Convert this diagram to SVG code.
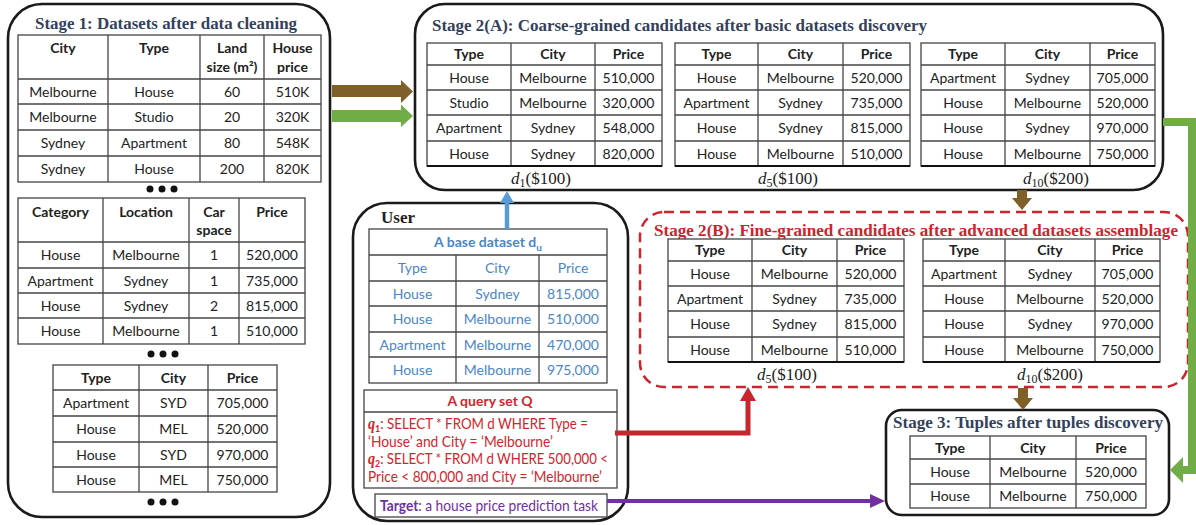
<svg xmlns="http://www.w3.org/2000/svg" width="1196" height="525" viewBox="0 0 1196 525">
<style>
.box{fill:#fff;stroke:#1a1a1a;stroke-width:2.6}
.tb{fill:#fff;stroke:#444;stroke-width:1.3}
.gl{stroke:#444;stroke-width:1.3}
.bot{stroke:#111;stroke-width:2.2}
.t{font-family:Lato,"Open Sans","Liberation Sans",sans-serif;font-size:14px;fill:#222;text-anchor:middle}
.b{font-weight:bold}
.blue{fill:#4a86c8}
.red{fill:#d0262d}
.pur{fill:#7030a0}
.ttl{font-family:"Liberation Serif",serif;font-weight:bold;font-size:17px;fill:#33415c}
.cap{font-family:"Liberation Serif",serif;font-size:17px;fill:#222;text-anchor:middle}
.dot{fill:#111}
.q{font-family:Lato,"Open Sans","Liberation Sans",sans-serif;font-size:15px}
</style>
<rect width="1196" height="525" fill="#fff"/>

<g id="stage1">
<rect class="box" x="8" y="4" width="322" height="513" rx="34"/>
<text class="ttl" x="35" y="29" textLength="262" lengthAdjust="spacingAndGlyphs">Stage 1: Datasets after data cleaning</text>
<rect class="tb" x="18" y="35" width="303" height="147"/>
<g class="gl"><line x1="108" y1="35" x2="108" y2="182"/><line x1="200" y1="35" x2="200" y2="182"/><line x1="264" y1="35" x2="264" y2="182"/>
<line x1="18" y1="79" x2="321" y2="79"/><line x1="18" y1="104" x2="321" y2="104"/><line x1="18" y1="130" x2="321" y2="130"/><line x1="18" y1="156" x2="321" y2="156"/></g>
<g class="t"><text class="t b" x="63" y="53">City</text><text class="t b" x="154" y="53">Type</text><text class="t b" x="232" y="53">Land</text><text class="t b" x="232" y="72">size (m²)</text><text class="t b" x="292.5" y="53">House</text><text class="t b" x="292.5" y="72">price</text>
<text class="t" x="63" y="96.5">Melbourne</text><text class="t" x="154" y="96.5">House</text><text class="t" x="232" y="96.5">60</text><text class="t" x="292.5" y="96.5">510K</text>
<text class="t" x="63" y="122">Melbourne</text><text class="t" x="154" y="122">Studio</text><text class="t" x="232" y="122">20</text><text class="t" x="292.5" y="122">320K</text>
<text class="t" x="63" y="148">Sydney</text><text class="t" x="154" y="148">Apartment</text><text class="t" x="232" y="148">80</text><text class="t" x="292.5" y="148">548K</text>
<text class="t" x="63" y="174">Sydney</text><text class="t" x="154" y="174">House</text><text class="t" x="232" y="174">200</text><text class="t" x="292.5" y="174">820K</text></g>
<circle class="dot" cx="150" cy="189" r="3.5"/><circle class="dot" cx="162" cy="189" r="3.5"/><circle class="dot" cx="174" cy="189" r="3.5"/>

<rect class="tb" x="18" y="198" width="287" height="146"/>
<g class="gl"><line x1="103" y1="198" x2="103" y2="344"/><line x1="189" y1="198" x2="189" y2="344"/><line x1="239" y1="198" x2="239" y2="344"/>
<line x1="18" y1="242" x2="305" y2="242"/><line x1="18" y1="268" x2="305" y2="268"/><line x1="18" y1="293" x2="305" y2="293"/><line x1="18" y1="318" x2="305" y2="318"/></g>
<text class="t b" x="60.5" y="217">Category</text><text class="t b" x="146" y="217">Location</text><text class="t b" x="214" y="217">Car</text><text class="t b" x="214" y="235">space</text><text class="t b" x="272" y="217">Price</text>
<text class="t" x="60.5" y="260">House</text><text class="t" x="146" y="260">Melbourne</text><text class="t" x="214" y="260">1</text><text class="t" x="272" y="260">520,000</text>
<text class="t" x="60.5" y="285.5">Apartment</text><text class="t" x="146" y="285.5">Sydney</text><text class="t" x="214" y="285.5">1</text><text class="t" x="272" y="285.5">735,000</text>
<text class="t" x="60.5" y="310.5">House</text><text class="t" x="146" y="310.5">Sydney</text><text class="t" x="214" y="310.5">2</text><text class="t" x="272" y="310.5">815,000</text>
<text class="t" x="60.5" y="336">House</text><text class="t" x="146" y="336">Melbourne</text><text class="t" x="214" y="336">1</text><text class="t" x="272" y="336">510,000</text>
<circle class="dot" cx="151" cy="354" r="3.5"/><circle class="dot" cx="163" cy="354" r="3.5"/><circle class="dot" cx="175" cy="354" r="3.5"/>

<rect class="tb" x="53" y="365" width="224" height="127"/>
<g class="gl"><line x1="139" y1="365" x2="139" y2="492"/><line x1="208" y1="365" x2="208" y2="492"/>
<line x1="53" y1="390" x2="277" y2="390"/><line x1="53" y1="416" x2="277" y2="416"/><line x1="53" y1="442" x2="277" y2="442"/><line x1="53" y1="467" x2="277" y2="467"/></g>
<text class="t b" x="96" y="382.5">Type</text><text class="t b" x="173.5" y="382.5">City</text><text class="t b" x="242.5" y="382.5">Price</text>
<text class="t" x="96" y="408">Apartment</text><text class="t" x="173.5" y="408">SYD</text><text class="t" x="242.5" y="408">705,000</text>
<text class="t" x="96" y="434">House</text><text class="t" x="173.5" y="434">MEL</text><text class="t" x="242.5" y="434">520,000</text>
<text class="t" x="96" y="459.5">House</text><text class="t" x="173.5" y="459.5">SYD</text><text class="t" x="242.5" y="459.5">970,000</text>
<text class="t" x="96" y="484.5">House</text><text class="t" x="173.5" y="484.5">MEL</text><text class="t" x="242.5" y="484.5">750,000</text>
<circle class="dot" cx="151" cy="502" r="3.5"/><circle class="dot" cx="163" cy="502" r="3.5"/><circle class="dot" cx="175" cy="502" r="3.5"/>
</g>

<g id="stage2a">
<rect class="box" x="415" y="4" width="748" height="186" rx="30"/>
<text class="ttl" x="432" y="31" textLength="495" lengthAdjust="spacingAndGlyphs">Stage 2(A): Coarse-grained candidates after basic datasets discovery</text>
<rect class="tb" x="427" y="43" width="235" height="123"/>
<g class="gl"><line x1="511" y1="43" x2="511" y2="166"/><line x1="595" y1="43" x2="595" y2="166"/>
<line x1="427" y1="65" x2="662" y2="65"/><line x1="427" y1="90" x2="662" y2="90"/><line x1="427" y1="115" x2="662" y2="115"/><line x1="427" y1="141" x2="662" y2="141"/></g>
<line class="bot" x1="427" y1="166" x2="662" y2="166"/>
<text class="t b" x="469" y="59">Type</text><text class="t b" x="553" y="59">City</text><text class="t b" x="628.5" y="59">Price</text>
<text class="t" x="469" y="82.5">House</text><text class="t" x="553" y="82.5">Melbourne</text><text class="t" x="628.5" y="82.5">510,000</text>
<text class="t" x="469" y="107.5">Studio</text><text class="t" x="553" y="107.5">Melbourne</text><text class="t" x="628.5" y="107.5">320,000</text>
<text class="t" x="469" y="133">Apartment</text><text class="t" x="553" y="133">Sydney</text><text class="t" x="628.5" y="133">548,000</text>
<text class="t" x="469" y="158.5">House</text><text class="t" x="553" y="158.5">Sydney</text><text class="t" x="628.5" y="158.5">820,000</text>
<text class="cap" x="541" y="184"><tspan font-style="italic">d</tspan><tspan font-size="12" dy="3">1</tspan><tspan dy="-3">($100)</tspan></text>

<rect class="tb" x="675" y="43" width="235" height="123"/>
<g class="gl"><line x1="758" y1="43" x2="758" y2="166"/><line x1="843" y1="43" x2="843" y2="166"/>
<line x1="675" y1="65" x2="910" y2="65"/><line x1="675" y1="90" x2="910" y2="90"/><line x1="675" y1="115" x2="910" y2="115"/><line x1="675" y1="141" x2="910" y2="141"/></g>
<line class="bot" x1="675" y1="166" x2="910" y2="166"/>
<text class="t b" x="716.5" y="59">Type</text><text class="t b" x="800.5" y="59">City</text><text class="t b" x="876.5" y="59">Price</text>
<text class="t" x="716.5" y="82.5">House</text><text class="t" x="800.5" y="82.5">Melbourne</text><text class="t" x="876.5" y="82.5">520,000</text>
<text class="t" x="716.5" y="107.5">Apartment</text><text class="t" x="800.5" y="107.5">Sydney</text><text class="t" x="876.5" y="107.5">735,000</text>
<text class="t" x="716.5" y="133">House</text><text class="t" x="800.5" y="133">Sydney</text><text class="t" x="876.5" y="133">815,000</text>
<text class="t" x="716.5" y="158.5">House</text><text class="t" x="800.5" y="158.5">Melbourne</text><text class="t" x="876.5" y="158.5">510,000</text>
<text class="cap" x="788" y="184"><tspan font-style="italic">d</tspan><tspan font-size="12" dy="3">5</tspan><tspan dy="-3">($100)</tspan></text>

<rect class="tb" x="921" y="43" width="234" height="123"/>
<g class="gl"><line x1="1005" y1="43" x2="1005" y2="166"/><line x1="1090" y1="43" x2="1090" y2="166"/>
<line x1="921" y1="65" x2="1155" y2="65"/><line x1="921" y1="90" x2="1155" y2="90"/><line x1="921" y1="115" x2="1155" y2="115"/><line x1="921" y1="141" x2="1155" y2="141"/></g>
<line class="bot" x1="921" y1="166" x2="1155" y2="166"/>
<text class="t b" x="963" y="59">Type</text><text class="t b" x="1047.5" y="59">City</text><text class="t b" x="1122.5" y="59">Price</text>
<text class="t" x="963" y="82.5">Apartment</text><text class="t" x="1047.5" y="82.5">Sydney</text><text class="t" x="1122.5" y="82.5">705,000</text>
<text class="t" x="963" y="107.5">House</text><text class="t" x="1047.5" y="107.5">Melbourne</text><text class="t" x="1122.5" y="107.5">520,000</text>
<text class="t" x="963" y="133">House</text><text class="t" x="1047.5" y="133">Sydney</text><text class="t" x="1122.5" y="133">970,000</text>
<text class="t" x="963" y="158.5">House</text><text class="t" x="1047.5" y="158.5">Melbourne</text><text class="t" x="1122.5" y="158.5">750,000</text>
<text class="cap" x="1056" y="184"><tspan font-style="italic">d</tspan><tspan font-size="12" dy="3">10</tspan><tspan dy="-3">($200)</tspan></text>
</g>

<g id="stage2b">
<rect x="640" y="212" width="548" height="175" rx="24" fill="#fff" stroke="#c9252c" stroke-width="2.5" stroke-dasharray="10,6"/>
<text class="ttl" x="654" y="236" style="fill:#c9252c" textLength="524" lengthAdjust="spacingAndGlyphs">Stage 2(B): Fine-grained candidates after advanced datasets assemblage</text>
<rect class="tb" x="668" y="239" width="236" height="123"/>
<g class="gl"><line x1="752" y1="239" x2="752" y2="362"/><line x1="837" y1="239" x2="837" y2="362"/>
<line x1="668" y1="261" x2="904" y2="261"/><line x1="668" y1="286" x2="904" y2="286"/><line x1="668" y1="311" x2="904" y2="311"/><line x1="668" y1="337" x2="904" y2="337"/></g>
<line class="bot" x1="668" y1="362" x2="904" y2="362"/>
<text class="t b" x="710" y="255">Type</text><text class="t b" x="794.5" y="255">City</text><text class="t b" x="870.5" y="255">Price</text>
<text class="t" x="710" y="278.5">House</text><text class="t" x="794.5" y="278.5">Melbourne</text><text class="t" x="870.5" y="278.5">520,000</text>
<text class="t" x="710" y="303.5">Apartment</text><text class="t" x="794.5" y="303.5">Sydney</text><text class="t" x="870.5" y="303.5">735,000</text>
<text class="t" x="710" y="329">House</text><text class="t" x="794.5" y="329">Sydney</text><text class="t" x="870.5" y="329">815,000</text>
<text class="t" x="710" y="354.5">House</text><text class="t" x="794.5" y="354.5">Melbourne</text><text class="t" x="870.5" y="354.5">510,000</text>
<text class="cap" x="787" y="380"><tspan font-style="italic">d</tspan><tspan font-size="12" dy="3">5</tspan><tspan dy="-3">($100)</tspan></text>

<rect class="tb" x="923" y="239" width="237" height="123"/>
<g class="gl"><line x1="1005" y1="239" x2="1005" y2="362"/><line x1="1095" y1="239" x2="1095" y2="362"/>
<line x1="923" y1="261" x2="1160" y2="261"/><line x1="923" y1="286" x2="1160" y2="286"/><line x1="923" y1="311" x2="1160" y2="311"/><line x1="923" y1="337" x2="1160" y2="337"/></g>
<line class="bot" x1="923" y1="362" x2="1160" y2="362"/>
<text class="t b" x="964" y="255">Type</text><text class="t b" x="1050" y="255">City</text><text class="t b" x="1127.5" y="255">Price</text>
<text class="t" x="964" y="278.5">Apartment</text><text class="t" x="1050" y="278.5">Sydney</text><text class="t" x="1127.5" y="278.5">705,000</text>
<text class="t" x="964" y="303.5">House</text><text class="t" x="1050" y="303.5">Melbourne</text><text class="t" x="1127.5" y="303.5">520,000</text>
<text class="t" x="964" y="329">House</text><text class="t" x="1050" y="329">Sydney</text><text class="t" x="1127.5" y="329">970,000</text>
<text class="t" x="964" y="354.5">House</text><text class="t" x="1050" y="354.5">Melbourne</text><text class="t" x="1127.5" y="354.5">750,000</text>
<text class="cap" x="1050" y="380"><tspan font-style="italic">d</tspan><tspan font-size="12" dy="3">10</tspan><tspan dy="-3">($200)</tspan></text>
</g>

<g id="stage3">
<rect class="box" x="886" y="410" width="283" height="105" rx="16"/>
<text class="ttl" x="893" y="428" textLength="270" lengthAdjust="spacingAndGlyphs">Stage 3: Tuples after tuples discovery</text>
<rect class="tb" x="910" y="436" width="236" height="72"/>
<g class="gl"><line x1="990" y1="436" x2="990" y2="508"/><line x1="1076" y1="436" x2="1076" y2="508"/>
<line x1="910" y1="459" x2="1146" y2="459"/><line x1="910" y1="484" x2="1146" y2="484"/></g>
<text class="t b" x="950" y="452.5">Type</text><text class="t b" x="1033" y="452.5">City</text><text class="t b" x="1111" y="452.5">Price</text>
<text class="t" x="950" y="476.5">House</text><text class="t" x="1033" y="476.5">Melbourne</text><text class="t" x="1111" y="476.5">520,000</text>
<text class="t" x="950" y="501">House</text><text class="t" x="1033" y="501">Melbourne</text><text class="t" x="1111" y="501">750,000</text>
</g>

<g id="user">
<rect class="box" x="353" y="203" width="275" height="318" rx="34"/>
<text class="ttl" x="381" y="223" style="fill:#222">User</text>
<rect class="tb" x="369" y="229" width="238" height="154"/>
<g class="gl"><line x1="456" y1="255" x2="456" y2="383"/><line x1="539" y1="255" x2="539" y2="383"/>
<line x1="369" y1="255" x2="607" y2="255"/><line x1="369" y1="281" x2="607" y2="281"/><line x1="369" y1="306" x2="607" y2="306"/><line x1="369" y1="332" x2="607" y2="332"/><line x1="369" y1="357" x2="607" y2="357"/></g>
<text class="t b blue" x="488" y="247">A base dataset d<tspan font-size="10" dy="4">u</tspan></text>
<text class="t blue" x="412.5" y="273">Type</text><text class="t blue" x="497.5" y="273">City</text><text class="t blue" x="573" y="273">Price</text>
<text class="t blue" x="412.5" y="298.5">House</text><text class="t blue" x="497.5" y="298.5">Sydney</text><text class="t blue" x="573" y="298.5">815,000</text>
<text class="t blue" x="412.5" y="324">House</text><text class="t blue" x="497.5" y="324">Melbourne</text><text class="t blue" x="573" y="324">510,000</text>
<text class="t blue" x="412.5" y="349.5">Apartment</text><text class="t blue" x="497.5" y="349.5">Melbourne</text><text class="t blue" x="573" y="349.5">470,000</text>
<text class="t blue" x="412.5" y="375">House</text><text class="t blue" x="497.5" y="375">Melbourne</text><text class="t blue" x="573" y="375">975,000</text>

<rect class="tb" x="364" y="390" width="253" height="98"/>
<line class="gl" x1="364" y1="412" x2="617" y2="412"/>
<text class="t b red" x="490" y="406">A query set Q</text>
<g class="red q">
<text x="368" y="429" textLength="220" lengthAdjust="spacingAndGlyphs"><tspan font-family="Liberation Serif" font-style="italic" font-weight="bold" font-size="16">q</tspan><tspan font-size="10" font-weight="bold" dy="3">1</tspan><tspan dy="-3">: SELECT * FROM d WHERE Type =</tspan></text>
<text x="368" y="447" textLength="185" lengthAdjust="spacingAndGlyphs">‘House’ and City = ‘Melbourne’</text>
<text x="368" y="464" textLength="240" lengthAdjust="spacingAndGlyphs"><tspan font-family="Liberation Serif" font-style="italic" font-weight="bold" font-size="16">q</tspan><tspan font-size="10" font-weight="bold" dy="3">2</tspan><tspan dy="-3">: SELECT * FROM d WHERE 500,000 &lt;</tspan></text>
<text x="368" y="482" textLength="234" lengthAdjust="spacingAndGlyphs">Price &lt; 800,000 and City = ‘Melbourne’</text>
</g>
<rect class="tb" x="375" y="494" width="232" height="23"/>
<text class="pur q" x="380" y="511" textLength="218" lengthAdjust="spacingAndGlyphs"><tspan font-weight="bold">Target</tspan>: a house price prediction task</text>
</g>

<g id="connectors">
<polygon points="332,85 401,85 401,80 413,91.5 401,103 401,97 332,97" fill="#7f6029"/>
<polygon points="332,110 401,110 401,104.5 413,116 401,127 401,122 332,122" fill="#70ad47"/>
<polyline points="1163,122 1192,122 1192,470 1182,470" fill="none" stroke="#70ad47" stroke-width="8"/>
<polygon points="1183,457 1183,483 1170,470" fill="#70ad47"/>
<polygon points="1017,190 1027,190 1027,198 1032,198 1022,210 1012,198 1017,198" fill="#7f6029"/>
<polygon points="1018,388 1028,388 1028,398 1033,398 1023,410 1013,398 1018,398" fill="#7f6029"/>
<line x1="507" y1="229" x2="507" y2="201" stroke="#5b9bd5" stroke-width="4.5"/>
<polygon points="500,203 514,203 507,191" fill="#5b9bd5"/>
<polyline points="615,433 748,433 748,399" fill="none" stroke="#c9252c" stroke-width="5"/>
<polygon points="740,401 756,401 748,387" fill="#c9252c"/>
<line x1="607" y1="501" x2="872" y2="501" stroke="#7030a0" stroke-width="4"/>
<polygon points="870,494 870,508 885,501" fill="#7030a0"/>
</g>
</svg>
